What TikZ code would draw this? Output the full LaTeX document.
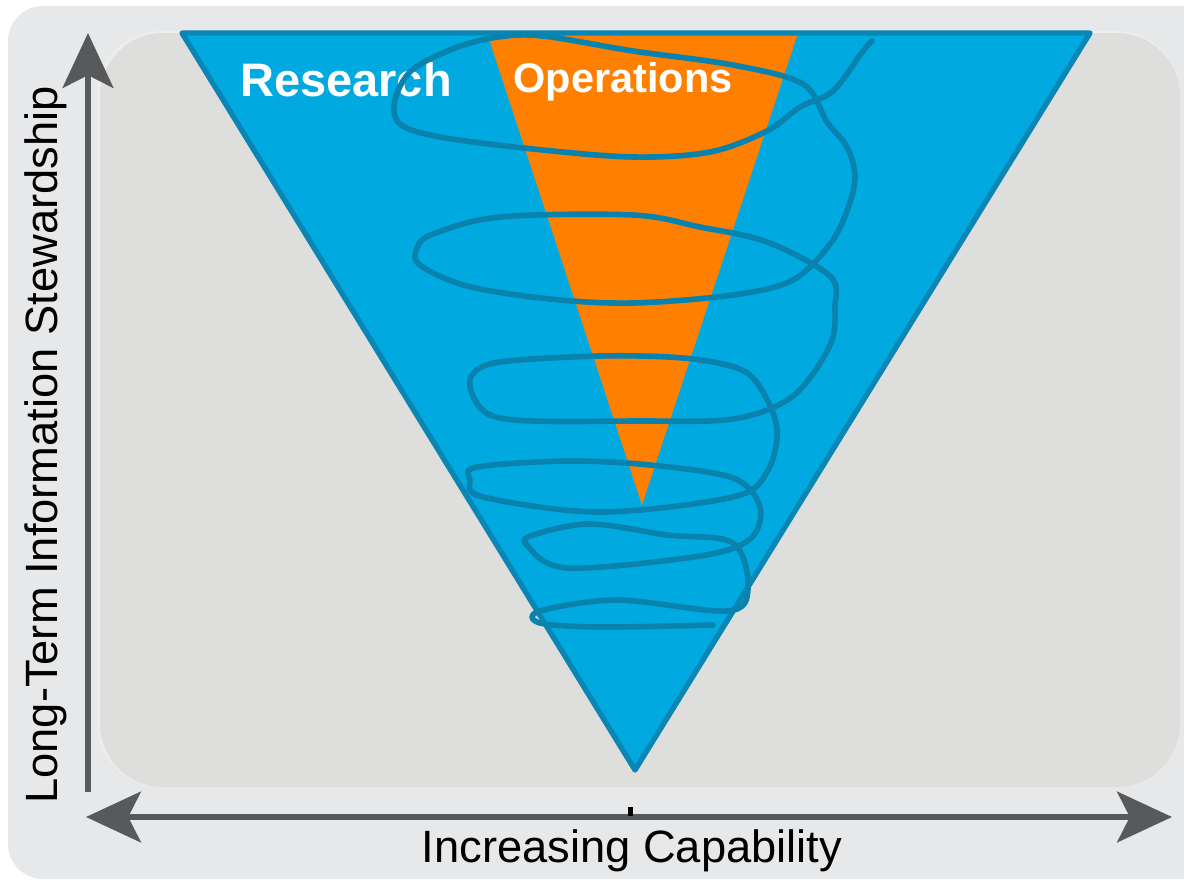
\documentclass[tikz,border=0pt]{standalone}
\usepackage{fontspec}
\setmainfont{Liberation Sans}
\usetikzlibrary{positioning,arrows.meta,calc}

\definecolor{outerbg}{HTML}{E7E8EA}
\definecolor{panelbg}{HTML}{DEDEDC}
\definecolor{resblue}{HTML}{00A9E0}
\definecolor{resedge}{HTML}{0A86B4}
\definecolor{spiralc}{HTML}{0982AE}
\definecolor{opsorange}{HTML}{FF7F00}
\definecolor{axisgray}{HTML}{58595B}

\tikzset{
  axis/.style={line width=4.3pt, axisgray, -{Stealth[length=39pt, width=36pt, inset=9pt]}},
  biaxis/.style={axis, {Stealth[length=39pt, width=36pt, inset=9pt]}-{Stealth[length=39pt, width=36pt, inset=9pt]}},
  region/.style={text=white, font=\bfseries, inner sep=0pt, anchor=base},
  axlabel/.style={text=black, inner sep=0pt, anchor=base, font=\fontsize{32.2}{38}\selectfont}
}

\begin{document}
\begin{tikzpicture}[x=0.025cm, y=-0.025cm]
\useasboundingbox (0,0) rectangle (1184,881);

\fill[white] (0,0) rectangle (1184,881);
\fill[outerbg, rounded corners=25] (8,6) rectangle (1230,879);
\fill[black!7, rounded corners=45] (97,31) rectangle (1180,787);
\fill[panelbg, rounded corners=45] (100,33) rectangle (1180,787);

\coordinate (rl) at (182,33);
\coordinate (rr) at (1090,33);
\coordinate (rb) at (635,770);
\coordinate (ol) at (487,33);
\coordinate (or) at (798,33);
\coordinate (ob) at (642,505);

\fill[resblue] (rl) -- (rr) -- (rb) -- cycle;
\fill[opsorange] (ol) -- (or) -- (ob) -- cycle;
\draw[resedge, line width=3.8pt, line join=round] (rl) -- (rr) -- (rb) -- cycle;

\node[region, font=\fontsize{33.4}{40}\selectfont\bfseries] (res) at (346,96) {Research};
\node[region, font=\fontsize{29.5}{36}\selectfont\bfseries] (ops) at (623,92) {Operations};

\draw[spiralc, line width=4pt, line cap=round, line join=round]
  plot[smooth, tension=0.55] coordinates {
  (872,41) (863,51) (833,91) (800,107) (767,131) (710,152) (633,157) (533,149)
  (440,137) (400,124) (395,100) (412,70) (455,48) (498,37) (543,36) (633,51)
  (733,65) (803,84) (827,122) (847,147) (855,177) (847,211) (830,244) (793,280)
  (733,295) (633,303) (550,299) (467,286) (420,265) (417,248) (433,234) (500,217)
  (633,215) (700,227) (767,242) (830,276) (835,307) (830,345) (793,396) (733,419)
  (633,421) (533,421) (490,415) (473,396) (472,375) (500,362) (600,356) (683,358)
  (737,368) (760,387) (777,429) (767,472) (733,497) (600,512) (483,497) (470,480)
  (477,467) (567,461) (650,465) (733,478) (760,507) (750,539) (700,556) (567,568)
  (527,545) (533,535) (590,524) (667,535) (733,543) (748,589) (727,611) (617,600)
  (540,611) (540,623) (600,627) (713,625)};

\coordinate (yo) at (88,792);
\coordinate (ytip) at (88,33);
\coordinate (xl) at (86,817);
\coordinate (xr) at (1172,817);
\draw[axis] (yo) -- (ytip);
\draw[biaxis] (xl) -- (xr);
\fill[black] (628,807) rectangle (633,816);

\node[axlabel] (xlab) at (632,862) {Increasing Capability};
\node[axlabel, rotate=90] (ylab) at (57,445) {Long-Term Information Stewardship};

\end{tikzpicture}
\end{document}
